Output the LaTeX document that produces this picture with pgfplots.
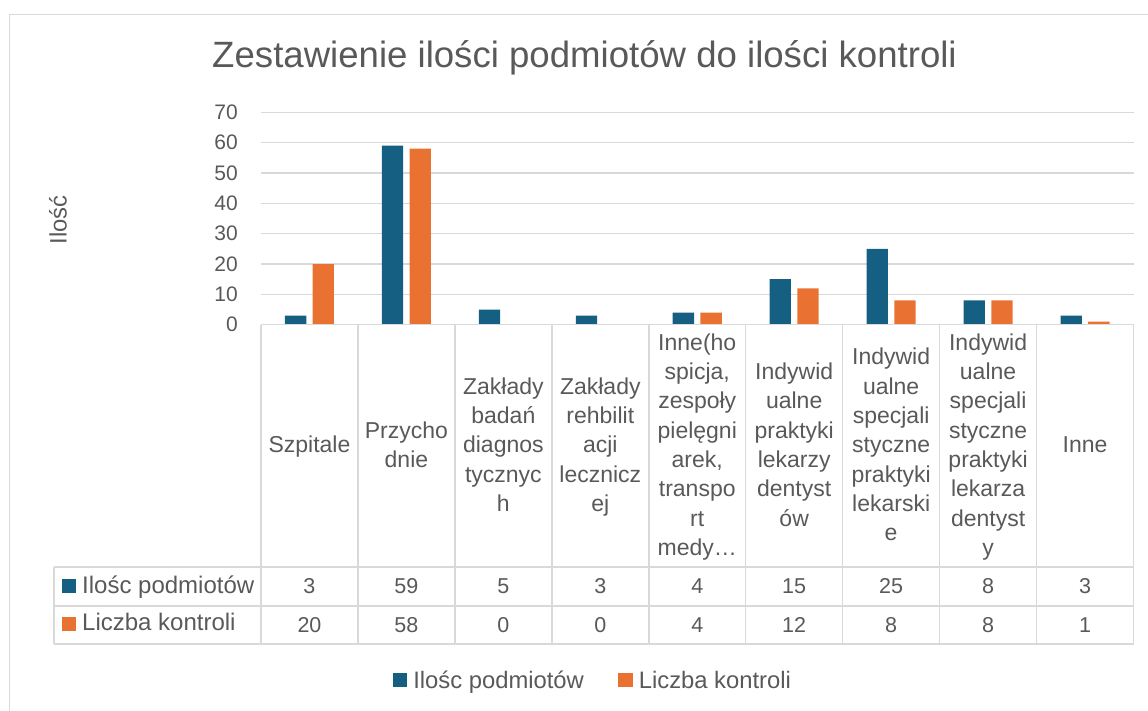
\documentclass[border=0pt]{standalone}
\usepackage{fontspec}
\setmainfont{Liberation Sans}
\usepackage{pgfplots}
\usepackage{pgfplotstable}
\pgfplotsset{compat=1.18}
\definecolor{cblue}{HTML}{156082}
\definecolor{corange}{HTML}{E97132}
\definecolor{tgray}{HTML}{595959}
\definecolor{lgray}{HTML}{D9D9D9}
\pgfplotstableread{
x a b
0 3 20
1 59 58
2 5 0
3 3 0
4 4 4
5 15 12
6 25 8
7 8 8
8 3 1
}\data
\begin{document}
\begin{tikzpicture}[x=1pt,y=1pt]
\path[use as bounding box] (0,0) rectangle (1148,711);
\draw[lgray, line width=1.2pt] (9.5,-5) -- (9.5,696.5) -- (1160,696.5);
\node[font=\fontsize{36.6}{40}\selectfont, text=tgray, anchor=base] at (584.5,643) {Zestawienie ilości podmiotów do ilości kontroli};
\begin{axis}[
  at={(261pt,386.3pt)}, anchor=south west,
  scale only axis, width=872.5pt, height=212.4pt,
  xmin=-0.5, xmax=8.5, ymin=0, ymax=70,
  clip=false,
  /pgf/number format/assume math mode=true,
  axis line style={draw=none},
  major tick length=0pt,
  ymajorgrids, grid style={lgray, line width=1.4pt},
  ytick={0,10,...,70},
  yticklabel style={font=\fontsize{21}{24}\selectfont, text=tgray, inner sep=0pt, anchor=east, xshift=-23pt},
  xtick={0,...,8},
  xticklabels={
    {\strut Szpitale},
    {\strut Przycho\\dnie\strut},
    {\strut Zakłady\\badań\\diagnos\\tycznyc\\h\strut},
    {\strut Zakłady\\rehbilit\\acji\\lecznicz\\ej\strut},
    {\strut Inne(ho\\spicja,\\zespoły\\pielęgni\\arek,\\transpo\\rt\\medy…\strut},
    {\strut Indywid\\ualne\\praktyki\\lekarzy\\dentyst\\ów\strut},
    {\strut Indywid\\ualne\\specjali\\styczne\\praktyki\\lekarski\\e\strut},
    {\strut Indywid\\ualne\\specjali\\styczne\\praktyki\\lekarza\\dentyst\\y\strut},
    {\strut Inne}},
  xticklabel style={font=\fontsize{23}{29.3}\selectfont, text=tgray, align=center, anchor=center, yshift=-122.3pt},
  ylabel={Ilość},
  ylabel style={at={(axis description cs:-0.2328,0.4929)}, anchor=center, font=\fontsize{23.8}{28}\selectfont, text=tgray},
  legend columns=2,
  legend image code/.code={\draw[#1,draw=none] (0pt,-7.2pt) rectangle (14.6pt,7.2pt);},
  legend style={at={(axis description cs:0.15095,-1.6742)}, anchor=west, draw=none, fill=none,
    inner sep=0pt, outer sep=0pt, font=\fontsize{23.8}{28}\selectfont, text=tgray,
    nodes={inner sep=0pt},
    column sep=6pt,
    /tikz/every even column/.append style={column sep=34.3pt}},
]
\addplot[ybar, bar width=0.22, bar shift=-0.143, fill=cblue, draw=none] table[x=x, y=a] {\data};
\addlegendentry{Ilośc podmiotów}
\addplot[ybar, bar width=0.22, bar shift=0.143, fill=corange, draw=none] table[x=x, y=b] {\data};
\addlegendentry{Liczba kontroli}
\addplot[forget plot, draw=none, mark=none, nodes near coords, point meta=explicit,
  nodes near coords style={anchor=center, inner sep=0pt, font=\fontsize{21.5}{24}\selectfont, text=tgray}]
  table[x=x, y expr=-86.28, meta=a] {\data};
\addplot[forget plot, draw=none, mark=none, nodes near coords, point meta=explicit,
  nodes near coords style={anchor=center, inner sep=0pt, font=\fontsize{21.5}{24}\selectfont, text=tgray}]
  table[x=x, y expr=-98.97, meta=b] {\data};
\end{axis}
% data table grid
\foreach \k in {0,...,9} {
  \draw[lgray, line width=1.5pt] ({261+96.944*\k},386.3) -- ({261+96.944*\k},67);
}
\draw[lgray, line width=1.5pt] (261,386.3) -- (1133.5,386.3);
\draw[lgray, line width=1.5pt] (54,144) -- (1133.5,144);
\draw[lgray, line width=1.5pt] (54,105) -- (1133.5,105);
\draw[lgray, line width=1.5pt] (54,67) -- (1133.5,67);
\draw[lgray, line width=1.5pt] (54,144) -- (54,67);
\fill[cblue] (62,118.3) rectangle (76,132);
\fill[corange] (62,80.3) rectangle (76,93.7);
\node[anchor=base west, inner sep=0pt, font=\fontsize{24}{28}\selectfont, text=tgray] at (82,117.7) {Ilośc podmiotów};
\node[anchor=base west, inner sep=0pt, font=\fontsize{24}{28}\selectfont, text=tgray] at (82,80.3) {Liczba kontroli};
\end{tikzpicture}
\end{document}
